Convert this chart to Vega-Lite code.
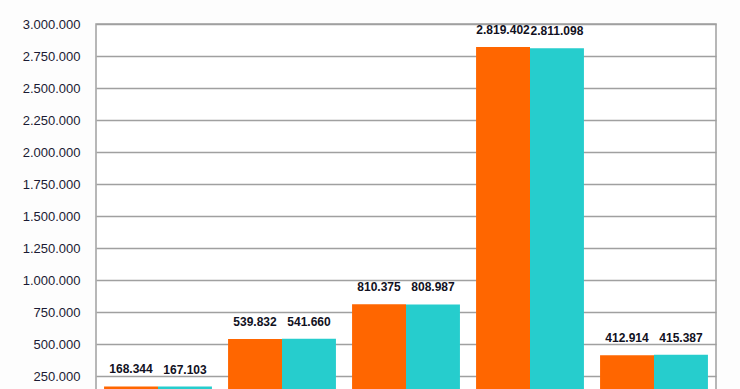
{
  "$schema": "https://vega.github.io/schema/vega-lite/v6.json",
  "autosize": "none",
  "width": 620,
  "height": 384,
  "padding": {"left": 96, "top": 24, "right": 24, "bottom": 0},
  "background": "#fdfdfd",
  "data": {
    "values": [
      {"categoria": "A", "serie": "Serie 1", "valor": 168344},
      {"categoria": "A", "serie": "Serie 2", "valor": 167103},
      {"categoria": "B", "serie": "Serie 1", "valor": 539832},
      {"categoria": "B", "serie": "Serie 2", "valor": 541660},
      {"categoria": "C", "serie": "Serie 1", "valor": 810375},
      {"categoria": "C", "serie": "Serie 2", "valor": 808987},
      {"categoria": "D", "serie": "Serie 1", "valor": 2819402},
      {"categoria": "D", "serie": "Serie 2", "valor": 2811098},
      {"categoria": "E", "serie": "Serie 1", "valor": 412914},
      {"categoria": "E", "serie": "Serie 2", "valor": 415387}
    ]
  },
  "encoding": {
    "x": {
      "field": "categoria",
      "type": "nominal",
      "scale": {"paddingInner": 0.13, "paddingOuter": 0.065},
      "axis": null
    },
    "xOffset": {"field": "serie", "type": "nominal", "scale": {"paddingInner": 0, "paddingOuter": 0}},
    "y": {
      "field": "valor",
      "type": "quantitative",
      "scale": {"domain": [0, 3000000], "nice": false},
      "axis": {
        "values": [250000, 500000, 750000, 1000000, 1250000, 1500000, 1750000, 2000000, 2250000, 2500000, 2750000, 3000000],
        "format": ",.0f",
        "title": null,
        "ticks": false,
        "tickSize": 0,
        "domain": false,
        "labelPadding": 16,
        "labelFont": "Liberation Sans",
        "labelFontSize": 13,
        "labelColor": "#1a1a33",
        "gridColor": "#a0a0a0",
        "gridWidth": 1.5,
        "gridOpacity": 1
      }
    }
  },
  "layer": [
    {
      "mark": {"type": "bar"},
      "encoding": {
        "color": {
          "field": "serie",
          "type": "nominal",
          "scale": {"range": ["#ff6600", "#26cdcd"]},
          "legend": null
        }
      }
    },
    {
      "mark": {
        "type": "text",
        "baseline": "bottom",
        "dy": -10,
        "font": "Liberation Sans",
        "fontSize": 12,
        "fontWeight": "bold",
        "color": "#111122"
      },
      "encoding": {
        "text": {"field": "valor", "type": "quantitative", "format": ",.0f"}
      }
    }
  ],
  "config": {
    "locale": {
      "number": {"decimal": ",", "thousands": ".", "grouping": [3], "currency": ["", " €"]}
    },
    "view": {"stroke": "#a0a0a0", "strokeWidth": 1.5, "fill": "#ffffff"}
  }
}
